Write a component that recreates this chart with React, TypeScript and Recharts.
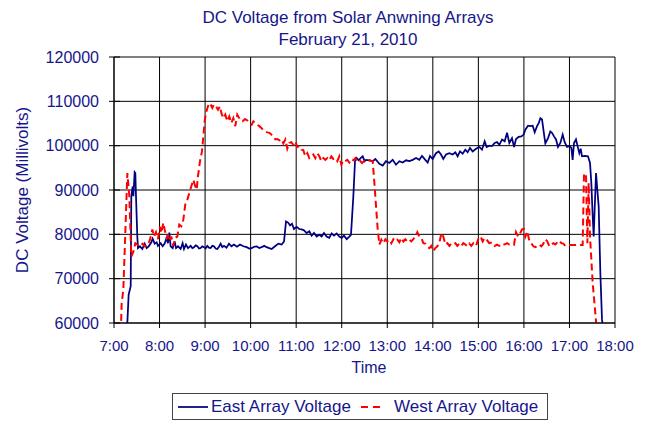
import { LineChart, Line, XAxis, YAxis, CartesianGrid, Legend, Label } from "recharts";

// minutes after 7:00 and readings in millivolts
const eastMinutes = [
  17, 19.3, 22, 22.8, 24.6, 25.5, 27.2, 28.1, 29, 30.7, 31.6, 34.2, 37.3, 40.4, 43, 45.7, 49.2, 50.9, 53.6, 56.2,
  57.9, 61.5, 64.1, 66.7, 69.4, 71.1, 72.9, 74.6, 77.3, 79.9, 81.7, 84.3, 87.8, 90.4, 92.2, 94.8, 97.5, 101, 103.2,
  105.4, 107.6, 109.8, 112, 114.1, 116.3, 118.5, 120.7, 122.9, 125.1, 127.3, 129.5, 131.7, 133.9, 136.1, 138.3,
  140.5, 142.7, 144.9, 148.2, 151.5, 154.8, 158, 162, 166, 170.4, 174.8, 178.1, 181.4, 184.7, 188, 191.3, 194.5,
  197.8, 201.1, 204.4, 207.7, 212.1, 216.5, 220.9, 224, 226.6, 229.7, 231.9, 234.5, 237.1, 240.6, 244.1, 247.2,
  250.3, 253.8, 257.3, 260.4, 263.5, 267, 270.5, 273.6, 276.6, 280.1, 283.6, 286.7, 289.8, 293.3, 296.8, 299.9,
  303, 306.5, 310, 312.2, 315.3, 317.5, 319.7, 322.3, 324.9, 327.6, 330.2, 332, 336.4, 340.8, 344.3, 349.6, 354,
  358.3, 362.7, 367.1, 371.5, 375.9, 380.3, 384.7, 389.1, 393.5, 397.9, 402.2, 405.8, 410.1, 413.2, 416.3, 419.8,
  424.2, 427.7, 430.8, 433.8, 437.4, 441.8, 446.1, 449.7, 452.7, 455.8, 459.3, 462.8, 465.9, 469, 472.5, 476.9,
  481.3, 484.8, 488.3, 490.9, 494.4, 497.9, 501.5, 504.6, 507.7, 511.2, 514.7, 517.8, 520.8, 524.3, 527, 529.6,
  533.1, 536.6, 539.7, 541.9, 545.4, 548.5, 551.6, 554.2, 557.3, 559.5, 561.7, 563.9, 566, 568.2, 571.8, 574.8,
  577, 579.7, 582.3, 584.9, 588, 591.1, 593.7, 596.8, 599.8, 602.5, 604.2, 606, 608.6, 611.3, 613, 614.8, 616.5,
  620, 624.4, 627.1, 628.8, 630.6, 631.9, 633.2, 635, 636.7, 638.5, 640.7, 642.9, 644.2,
];
const eastMillivolts = [
  58000, 66400, 68300, 88600, 90800, 88600, 94000, 93800, 88500, 79500, 76900, 77300, 76700, 77900, 76900, 77300,
  78200, 79000, 77900, 78200, 77400, 78000, 77300, 77900, 79200, 78000, 80400, 77300, 76900, 78400, 76900, 77300,
  76700, 78000, 76700, 77700, 76900, 77400, 76900, 77100, 77500, 77300, 76800, 76900, 77300, 77100, 76800, 77400,
  77000, 76900, 77400, 77300, 76800, 76700, 77200, 77900, 77100, 77400, 77000, 77900, 77300, 77700, 77200, 77700,
  77300, 77100, 76800, 76900, 77200, 77300, 76900, 77100, 77400, 77100, 76900, 76700, 77300, 77900, 77700, 78400,
  82900, 82600, 82000, 82400, 81200, 81700, 81200, 81100, 80900, 80300, 80700, 79700, 80300, 79500, 79900, 79500,
  80300, 79500, 79200, 80200, 79700, 80200, 79500, 79200, 79700, 78900, 79500, 79900, 88600, 96500, 97200, 96700,
  97200, 97600, 96500, 96800, 96700, 96500, 97000, 95900, 95500, 96500, 96100, 96800, 95700, 96500, 96200, 96700,
  96500, 96800, 97200, 96800, 97700, 96800, 96200, 97700, 97000, 98300, 98700, 98000, 97000, 98000, 98300, 98000,
  98500, 97600, 98700, 98200, 99100, 98500, 99500, 98700, 99300, 99700, 99100, 101000, 99700, 100000, 99900,
  100600, 100800, 100200, 101400, 101000, 102900, 100600, 101700, 99700, 101500, 102000, 102100, 102500, 103600,
  104500, 104400, 104500, 103000, 104400, 105100, 106200, 105900, 103200, 100500, 101700, 103200, 102900, 102100,
  101400, 99700, 100600, 102500, 100800, 99700, 99900, 99500, 96800, 100600, 101400, 99500, 98300, 99300, 97600,
  97700, 97600, 96100, 91600, 84100, 79500, 85600, 93800, 90100, 86300, 71300, 60700, 59200,
];

const westMinutes = [
  9, 10.1, 12.3, 17.6, 20.2, 22.8, 25.5, 28.1, 30.7, 34.2, 37.8, 40.4, 43.9, 47.4, 50.5, 52.7, 55.3, 57.9, 60.6,
  62.3, 65, 66.7, 69.4, 71.1, 73.8, 75.5, 78.1, 80.8, 83.4, 86, 88.7, 91.3, 93.9, 96.6, 99.2, 101.8, 104.5, 107.1,
  108.9, 110.6, 113.3, 115.9, 117.7, 119.4, 121.2, 123.8, 126.4, 129.5, 131.7, 134.3, 137, 139.6, 141.4, 144, 146.6,
  149.3, 151.9, 154.5, 157.2, 159.8, 162.4, 165.9, 169.5, 172.6, 175.7, 178.3, 181.4, 183.6, 186.2, 188.8, 191.5,
  194.1, 196.7, 199.4, 202, 204.6, 207.3, 209.9, 212.5, 215.2, 217.8, 220.4, 223.1, 225.7, 228.3, 231, 233.6,
  236.2, 238.9, 241.5, 244.1, 246.8, 249.4, 252, 254.7, 257.3, 259.9, 262.6, 265.2, 267.8, 270.5, 273.1, 275.8,
  278.4, 281, 283.7, 286.3, 288.9, 291.6, 294.2, 296.8, 299.5, 302.1, 304.7, 307.4, 310, 312.6, 315.3, 317.9,
  320.5, 323.2, 326.7, 329.3, 332, 336.4, 340.8, 343, 345.2, 347.4, 349.6, 352.2, 354.8, 357.5, 360.1, 362.7,
  365.4, 368, 370.6, 373.3, 375.9, 378.5, 381.2, 383.8, 386.4, 389.1, 391.7, 394.3, 397, 399.6, 402.2, 404.9,
  407.5, 410.1, 412.8, 415.4, 418, 420.7, 423.3, 425.9, 428.6, 431.2, 433.8, 436.5, 439.1, 441.8, 444.4, 447,
  449.7, 452.3, 454.9, 457.6, 460.2, 462.8, 465.5, 468.1, 470.7, 473.4, 476.9, 480.4, 483, 485.7, 488.3, 490.9,
  494.4, 497.9, 501.5, 504.6, 507.7, 511.2, 514.7, 517.8, 520.8, 524.3, 527, 529.6, 532.2, 534.9, 537.5, 540.1,
  541.9, 544.5, 547.2, 549.8, 552.4, 555.1, 557.7, 560.3, 563, 565.6, 568.2, 570.9, 573.5, 576.1, 578.8, 581.4,
  584, 586.7, 589.3, 591.9, 594.6, 597.2, 599.8, 617.4, 619.2, 621.8, 623.6, 625.3, 627.1, 630.6, 635, 636.7,
];
const westMillivolts = [
  58000, 64500, 67500, 93800, 88600, 75000, 76100, 78000, 77700, 77300, 77900, 77300, 77400, 78800, 81100, 79500,
  80500, 78900, 81700, 80300, 82600, 81100, 79200, 79700, 78400, 79500, 77400, 79200, 79500, 82200, 81800, 83300,
  86700, 87800, 89300, 90800, 92300, 90800, 90100, 93100, 96500, 98700, 102100, 105500, 107400, 108900, 109600,
  108500, 109300, 108900, 108100, 108900, 107400, 106200, 107000, 105500, 106600, 105100, 106200, 104400, 107000,
  105900, 105500, 106000, 105700, 105100, 104700, 105500, 105100, 104700, 104400, 104000, 103500, 103200, 103000,
  102900, 102500, 102100, 101400, 101500, 101200, 101500, 100500, 101400, 99300, 100600, 100800, 100200, 101000,
  99700, 99900, 99100, 99000, 97600, 98300, 97200, 97600, 98000, 97200, 98300, 97600, 96500, 97200, 96800, 97200,
  96700, 97600, 97000, 97200, 96500, 97600, 95700, 96700, 96500, 96800, 96200, 97000, 96700, 97200, 96500, 96800,
  96100, 96500, 96800, 96700, 96500, 91600, 86300, 81100, 77700, 78800, 78000, 78900, 78400, 78800, 78000, 78900,
  78400, 78800, 78200, 79200, 78400, 78900, 78400, 78800, 78400, 78900, 79500, 80500, 79500, 79200, 78000, 77900,
  77300, 76900, 77400, 76200, 76900, 77300, 78000, 80300, 79500, 77700, 78000, 77400, 77900, 77700, 78000, 77400,
  77900, 77400, 78000, 77700, 77300, 77900, 77400, 78000, 77400, 79200, 79500, 78400, 79200, 78800, 78000, 78200,
  77400, 77700, 77400, 77900, 77700, 78000, 77700, 77900, 77700, 80500, 79500, 80200, 81100, 81200, 79500, 80700,
  78400, 78000, 77300, 77100, 77400, 77700, 77300, 77900, 78900, 78400, 77300, 77700, 78000, 77700, 78200, 78600,
  78000, 77900, 77400, 77600, 77600, 77600, 93800, 93100, 78000, 91600, 79500, 69000, 60400, 58000,
];

const hourTicks = [7, 8, 9, 10, 11, 12, 13, 14, 15, 16, 17, 18];
const voltTicks = [60000, 70000, 80000, 90000, 100000, 110000, 120000];

const TEXT = "#16168a";
const FONT = "'Liberation Sans', Arial, sans-serif";
const EAST = "#000080";
const WEST = "#ff0000";

const toRows = (mins: number[], vals: number[]) =>
  mins.map((m, i) => ({ t: 7 + m / 60, v: vals[i] }));

const eastData = toRows(eastMinutes, eastMillivolts);
const westData = toRows(westMinutes, westMillivolts);

const VoltTick = (props: any) => {
  const { x, y, payload } = props;
  return (
    <g>
      <line x1={x + 10} x2={x + 21} y1={y} y2={y} stroke="#000" />
      <text x={x} y={y} textAnchor="end" dominantBaseline="central" fill={TEXT} fontSize={16} fontFamily={FONT}>
        {payload.value}
      </text>
    </g>
  );
};

const LegendBox = () => (
  <div
    style={{
      position: "relative",
      width: 376,
      height: 27,
      border: "1px solid #444",
      boxSizing: "border-box",
      background: "#fff",
      fontFamily: FONT,
      fontSize: 17,
      color: TEXT,
    }}
  >
    <svg width={34} height={27} style={{ position: "absolute", left: 3, top: 0 }}>
      <line x1={2} x2={32} y1={13} y2={13} stroke={EAST} strokeWidth={1.75} />
    </svg>
    <span style={{ position: "absolute", left: 38, top: 3, lineHeight: "20px" }}>East Array Voltage</span>
    <svg width={24} height={27} style={{ position: "absolute", left: 186, top: 0 }}>
      <line x1={2} x2={21} y1={13} y2={13} stroke={WEST} strokeWidth={2} strokeDasharray="7 5" />
    </svg>
    <span style={{ position: "absolute", left: 221, top: 3, lineHeight: "20px" }}>West Array Voltage</span>
  </div>
);

export default function App() {
  return (
    <div style={{ position: "absolute", left: 0, top: 0, width: 646, height: 421, background: "#fff" }}>
      <div
        style={{
          position: "absolute",
          left: 148,
          top: 7,
          width: 400,
          textAlign: "center",
          fontFamily: FONT,
          fontSize: 17,
          lineHeight: "22px",
          color: TEXT,
          zIndex: 2,
        }}
      >
        DC Voltage from Solar Anwning Arrays
        <br />
        February 21, 2010
      </div>
      <LineChart width={646} height={421} margin={{ top: 57, right: 31, bottom: 58, left: 14 }}>
        <CartesianGrid stroke="#000" strokeWidth={1} />
        <XAxis
          type="number"
          dataKey="t"
          domain={[7, 18]}
          ticks={hourTicks}
          tickFormatter={(h: number) => `${h}:00`}
          height={40}
          tickSize={5}
          tickMargin={12}
          stroke="#000"
          tick={{ fill: TEXT, fontSize: 15, fontFamily: FONT }}
          allowDataOverflow
        >
          <Label
            content={() => (
              <text x={369} y={373} textAnchor="middle" fill={TEXT} fontSize={16} fontFamily={FONT}>
                Time
              </text>
            )}
          />
        </XAxis>
        <YAxis
          type="number"
          dataKey="v"
          domain={[60000, 120000]}
          ticks={voltTicks}
          width={100}
          tickSize={5}
          tickMargin={10}
          tickLine={false}
          stroke="#000"
          tick={<VoltTick />}
          allowDataOverflow
        >
          <Label
            content={() => (
              <text
                x={22}
                y={190}
                transform="rotate(-90 22 190)"
                textAnchor="middle"
                dominantBaseline="central"
                fill={TEXT}
                fontSize={17}
                fontFamily={FONT}
              >
                DC Voltage (Millivolts)
              </text>
            )}
          />
        </YAxis>
        <Legend
          layout="horizontal"
          verticalAlign="middle"
          align="center"
          content={<LegendBox />}
          wrapperStyle={{ left: 172, top: 393, width: 376, height: 27 }}
        />
        <Line
          data={eastData}
          dataKey="v"
          name="East Array Voltage"
          stroke={EAST}
          strokeWidth={1.75}
          dot={false}
          activeDot={false}
          isAnimationActive={false}
        />
        <Line
          data={westData}
          dataKey="v"
          name="West Array Voltage"
          stroke={WEST}
          strokeWidth={2}
          strokeDasharray="7 4"
          dot={false}
          activeDot={false}
          isAnimationActive={false}
        />
      </LineChart>
    </div>
  );
}
